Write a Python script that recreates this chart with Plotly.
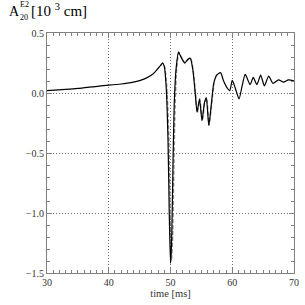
import plotly.graph_objects as go

time_ms = [30, 33, 35, 38.4, 40, 42, 43.6, 45, 46.3, 47.2, 47.9, 48.4, 48.7, 49.0, 49.3, 49.6, 49.8, 50.0,
           50.2, 50.4, 50.6, 50.9, 51.3, 51.7, 52.3, 52.8, 53.2, 53.6, 54.0, 54.3, 54.7, 55.1, 55.5, 55.8,
           56.2, 56.6, 57.0, 57.5, 58.1, 58.6, 59.2, 59.6, 60.0, 60.5, 61.1, 61.6, 62.1, 62.9, 63.4, 64.0,
           64.6, 65.2, 65.9, 66.6, 67.5, 68.3, 69.1, 70.0]
amp = [0.02, 0.03, 0.038, 0.058, 0.065, 0.075, 0.086, 0.103, 0.13, 0.16, 0.2, 0.23, 0.25, 0.22, 0.05, -0.4,
       -1.0, -1.42, -1.2, -0.6, -0.1, 0.2, 0.34, 0.3, 0.25, 0.28, 0.29, 0.2, 0.0, -0.16, -0.05, -0.23, -0.08,
       -0.04, -0.27, -0.1, 0.08, 0.15, 0.17, 0.1, 0.04, 0.02, 0.105, 0.04, -0.05, 0.06, 0.155, 0.07, 0.13,
       0.07, 0.15, 0.06, 0.14, 0.08, 0.11, 0.09, 0.11, 0.10]

# second (gray) curve, nearly coincident, slightly later in the collapse region
time_ms_2 = [48.4, 48.75, 49.05, 49.4, 49.75, 49.95, 50.15, 50.35, 50.55, 50.75, 51.0, 51.35, 51.75,
             52.35, 52.85, 53.25, 53.65, 54.05, 54.35, 54.75, 55.15, 55.55, 55.85, 56.25, 56.65, 57.05]
amp_2 = [0.23, 0.25, 0.22, 0.05, -0.4, -1.0, -1.4, -1.2, -0.6, -0.1, 0.2, 0.34, 0.3,
         0.25, 0.28, 0.29, 0.2, 0.0, -0.16, -0.05, -0.23, -0.08, -0.04, -0.27, -0.1, 0.08]

x_ticks = [30, 40, 50, 60, 70]
y_ticks = [0.5, 0.0, -0.5, -1.0, -1.5]
y_labels = ["0.5", "0.0", "\u22120.5", "\u22121.0", "\u22121.5"]

serif = "Liberation Serif"

fig = go.Figure()
fig.add_trace(go.Scatter(x=time_ms_2, y=amp_2, mode="lines",
                         line=dict(color="#8c8c8c", width=1.4, dash="4px,2px", shape="spline", smoothing=0.6),
                         showlegend=False))
fig.add_trace(go.Scatter(x=time_ms, y=amp, mode="lines",
                         line=dict(color="black", width=1.2, shape="spline", smoothing=0.6),
                         showlegend=False))

axis_common = dict(showline=True, linecolor="#808080", linewidth=1, mirror="allticks",
                   ticks="inside", ticklen=5, tickcolor="#808080", ticklabeloverflow="allow",
                   showgrid=True, gridcolor="#707070", griddash="1px,2px", gridwidth=1,
                   zeroline=False, tickfont=dict(family=serif, size=10, color="#333333"))

fig.update_xaxes(range=[30, 70], tickvals=x_ticks, ticktext=[str(v) for v in x_ticks],
                 minor=dict(dtick=1, ticks="inside", ticklen=3, tickcolor="#808080", showgrid=False),
                 title=dict(text="time [ms]", font=dict(family=serif, size=10.5, color="#333333"), standoff=1),
                 **axis_common)
fig.update_yaxes(range=[-1.5, 0.5], tickvals=y_ticks, ticktext=y_labels,
                 minor=dict(dtick=0.1, ticks="inside", ticklen=3, tickcolor="#808080", showgrid=False),
                 **axis_common)

fig.update_layout(width=305, height=305, margin=dict(l=47, r=6, t=33, b=32),
                  plot_bgcolor="white", paper_bgcolor="white")

fig.add_annotation(xref="paper", yref="paper", x=-41/252, y=1 + 22/240, xanchor="left", yanchor="middle",
                   text="A", showarrow=False, font=dict(family=serif, size=14, color="black"))
fig.add_annotation(xref="paper", yref="paper", x=-30/252, y=1 + 28/240, xanchor="left", yanchor="middle",
                   text="E2", showarrow=False, font=dict(family=serif, size=8, color="black"))
fig.add_annotation(xref="paper", yref="paper", x=-30/252, y=1 + 16/240, xanchor="left", yanchor="middle",
                   text="20", showarrow=False, font=dict(family=serif, size=8, color="black"))
fig.add_annotation(xref="paper", yref="paper", x=-18/252, y=1 + 23/240, xanchor="left", yanchor="middle",
                   text="[10 <sup>3</sup> cm]", showarrow=False, font=dict(family=serif, size=15, color="black"))

fig.write_html("out.html", post_script="document.body.style.margin='0';",
               config={"displayModeBar": False})
